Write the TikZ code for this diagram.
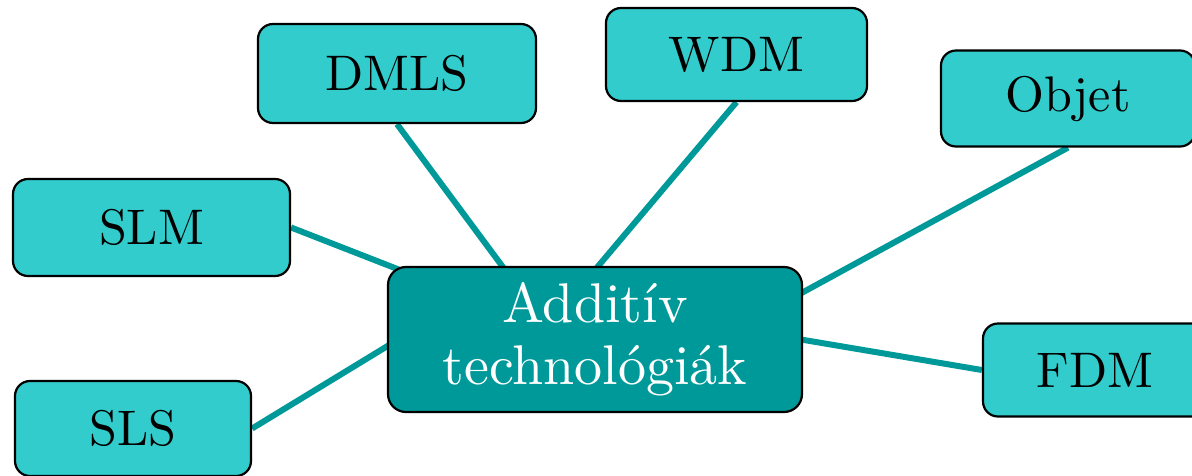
\documentclass[tikz,border=0pt]{standalone}
\usepackage{fontspec}
\setmainfont{lmroman10-regular}[Extension=.otf]
\usetikzlibrary{backgrounds}
\definecolor{hubfill}{HTML}{009999}
\definecolor{leaffill}{HTML}{33CCCC}
\definecolor{linkcol}{HTML}{009999}
\tikzset{
  leaf/.style={draw=black, line width=2.2pt, fill=leaffill, rounded corners=15pt,
    inner sep=0pt, font=\fontsize{50}{60}\selectfont},
  hub/.style={draw=black, line width=2.2pt, fill=hubfill, rounded corners=18pt,
    inner sep=0pt, align=center, text=white, font=\fontsize{56}{62}\selectfont,
    minimum width=414pt, minimum height=145pt},
  link/.style={draw=linkcol, line width=6pt}
}
\begin{document}
\begin{tikzpicture}[x=1pt,y=-1pt]
\useasboundingbox (0,0) rectangle (1192,475);
\clip (0,0) rectangle (1192,475);
\node[hub] (c) at (595,339.5) {Additív\\technológiák};
\node[leaf, minimum width=277pt, minimum height=97pt] (slm) at (151.5,227.5) {SLM};
\node[leaf, minimum width=236pt, minimum height=95pt] (sls) at (133,428.5) {SLS};
\node[leaf, minimum width=278pt, minimum height=99pt] (dmls) at (397,73.5) {DMLS};
\node[leaf, minimum width=261pt, minimum height=93pt] (wdm) at (736.5,54.5) {WDM};
\node[leaf, minimum width=254pt, minimum height=96pt] (objet) at (1068,98.5) {Objet};
\node[leaf, minimum width=224pt, minimum height=93pt] (fdm) at (1095,370) {FDM};
\begin{scope}[on background layer]
\draw[link] (slm.east) -- ([xshift=18pt,yshift=-6pt]c.north west);
\draw[link] (sls.east) -- ([xshift=8pt,yshift=-2pt]c.west);
\draw[link] (dmls.south) -- ([xshift=-90pt,yshift=-4pt]c.north);
\draw[link] (wdm.south) -- ([xshift=0pt,yshift=-4pt]c.north);
\draw[link] (objet.south) -- ([xshift=-8pt,yshift=43pt]c.east);
\draw[link] (fdm.west) -- ([xshift=-8pt,yshift=1pt]c.east);
\end{scope}
\end{tikzpicture}
\end{document}
